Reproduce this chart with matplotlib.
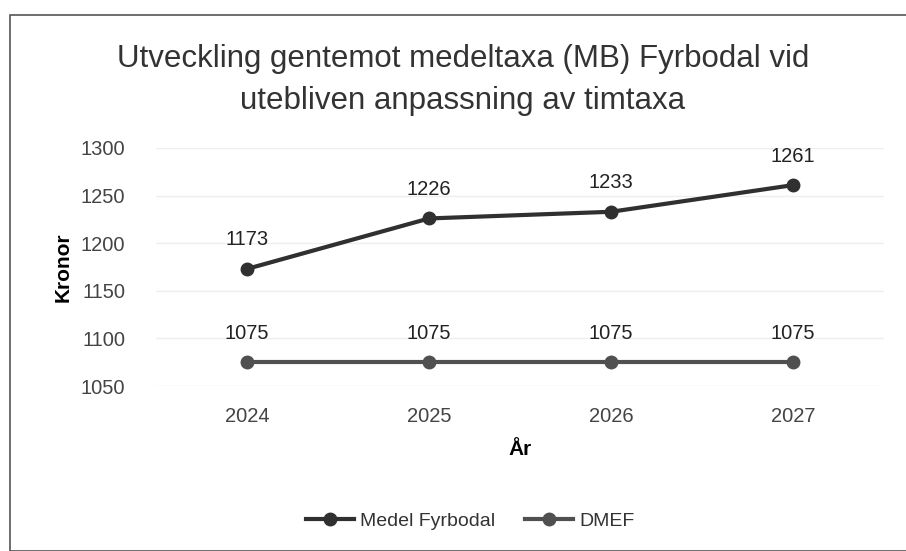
import matplotlib.pyplot as plt
from matplotlib.patches import Rectangle

years = ["2024", "2025", "2026", "2027"]
medel_fyrbodal = [1173, 1226, 1233, 1261]
dmef = [1075, 1075, 1075, 1075]

plt.rcParams["font.family"] = ["Liberation Sans", "DejaVu Sans"]

fig = plt.figure(figsize=(9.06, 5.51), dpi=100)
ax = fig.add_axes([156 / 906, 1 - 386 / 551, 728 / 906, (386 - 148) / 551])

x = list(range(len(years)))
ax.plot(x, medel_fyrbodal, color="#303030", lw=3, marker="o", ms=9, label="Medel Fyrbodal")
ax.plot(x, dmef, color="#505050", lw=3, marker="o", ms=9, label="DMEF")

for series in (medel_fyrbodal, dmef):
    for xi, v in zip(x, series):
        ax.annotate(str(v), (xi, v), xytext=(0, 14), textcoords="offset points",
                    ha="center", va="bottom", fontsize=14.5, color="#222222")

ax.set_xlim(-0.5, 3.5)
ax.set_ylim(1050, 1300)
ax.set_yticks([1050, 1100, 1150, 1200, 1250, 1300])
ax.set_xticks(x)
ax.set_xticklabels(years)
ax.tick_params(length=0, labelsize=14.5, colors="#444444")
ax.tick_params(axis="x", pad=15)
ax.tick_params(axis="y", pad=22)
ax.grid(axis="y", color="#eeeeee", lw=1)
ax.set_axisbelow(True)
for s in ax.spines.values():
    s.set_visible(False)

ax.set_ylabel("Kronor", fontsize=15, fontweight="bold", labelpad=6)
ax.set_xlabel("År", fontsize=15, fontweight="bold", labelpad=10)

fig.text(0.511, 0.855, "Utveckling gentemot medeltaxa (MB) Fyrbodal vid\nutebliven anpassning av timtaxa",
         ha="center", va="center", fontsize=22.5, color="#333333", linespacing=1.55)

ax.legend(loc="center", bbox_to_anchor=(470 / 906, 1 - 521 / 551), bbox_transform=fig.transFigure,
          ncol=2, frameon=False, fontsize=14, handlelength=2.5, columnspacing=1.5,
          handletextpad=0.3, labelcolor="#333333")

fig.patches.append(Rectangle((10 / 906, 0), 1, 1 - 15 / 551, transform=fig.transFigure,
                             fill=False, edgecolor="#555555", lw=1.2))

plt.savefig("out.png", dpi=100)
